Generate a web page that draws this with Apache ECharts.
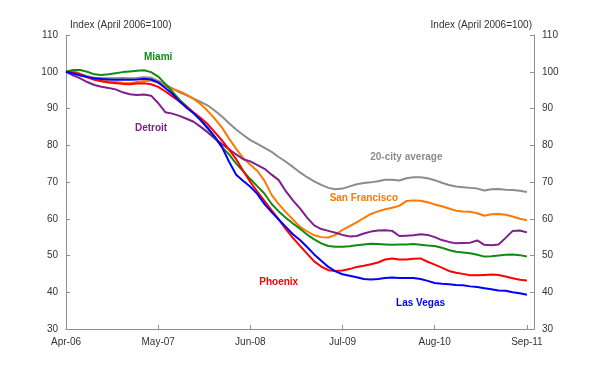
<!DOCTYPE html>
<html>
<head>
<meta charset="utf-8">
<script src="https://cdn.jsdelivr.net/npm/echarts@6/dist/echarts.min.js"></script>
<style>html,body{margin:0;padding:0;background:#fff;}#c{width:601px;height:367px;}</style>
</head>
<body>
<div id="c"></div>
<script>
// Monthly categories Apr-06 .. Oct-11 (last one is axis padding only)
var monthNames = ['Jan','Feb','Mar','Apr','May','Jun','Jul','Aug','Sep','Oct','Nov','Dec'];
var categories = [];
for (var k = 0; k < 67; k++) {
  var m = (3 + k) % 12, y = 6 + Math.floor((3 + k) / 12);
  categories.push(monthNames[m] + '-' + (y < 10 ? '0' + y : '' + y));
}
var yTicks = [30, 40, 50, 60, 70, 80, 90, 100, 110];

var avg20 = [100, 100.3, 99.5, 98.8, 98.4, 98.3, 98.2, 98.2, 98.3, 98.2, 98.3, 98.5, 98.4,
  97.5, 96.6, 95.5, 94.4, 93.6, 92.7, 91.8, 90.8, 89.4, 87.8, 86.0, 84.3, 82.8,
  81.4, 80.4, 79.3, 78.2, 76.8, 75.5, 74.1, 72.6, 71.3, 70.2, 69.2, 68.4, 68.0,
  68.2, 68.8, 69.4, 69.7, 69.9, 70.2, 70.6, 70.6, 70.4, 71.0, 71.3, 71.3, 71.0,
  70.5, 69.8, 69.2, 68.8, 68.6, 68.4, 68.2, 67.7, 68.0, 68.1, 67.9, 67.8, 67.6, 67.3];
var sanFrancisco = [100, 100.2, 99.2, 98.5, 98.0, 97.7, 97.4, 97.2, 97.0, 96.9, 97.2, 97.5, 97.6,
  97.0, 96.1, 95.3, 94.7, 93.8, 92.6, 91.2, 89.3, 87.2, 84.8, 81.8, 79.0, 76.5,
  74.7, 73.0, 70.3, 66.5, 64.0, 61.8, 59.8, 57.8, 56.6, 55.5, 55.0, 54.9, 55.6,
  57.0, 58.0, 59.0, 60.2, 61.3, 62.0, 62.6, 63.0, 63.5, 64.8, 65.0, 64.9, 64.5,
  63.9, 63.4, 62.8, 62.2, 62.0, 61.9, 61.5, 60.8, 61.2, 61.3, 61.1, 60.6, 60.0, 59.6];
var detroit = [100, 99.0, 98.2, 97.2, 96.4, 95.9, 95.6, 95.2, 94.4, 93.9, 93.7, 93.8, 93.5,
  91.5, 89.0, 88.6, 88.0, 87.2, 86.4, 85.0, 83.5, 81.8, 80.3, 78.9, 77.5, 76.2,
  75.6, 74.6, 73.6, 72.0, 70.5, 67.5, 65.0, 62.8, 60.3, 58.2, 57.2, 56.7, 56.2,
  55.6, 55.2, 55.3, 56.0, 56.5, 56.8, 56.9, 56.7, 55.3, 55.4, 55.5, 55.8, 55.6,
  55.0, 54.2, 53.7, 53.3, 53.4, 53.5, 54.1, 52.9, 52.8, 53.0, 54.8, 56.7, 56.8, 56.3];
var miami = [100, 100.5, 100.5, 100.0, 99.3, 99.1, 99.3, 99.6, 99.9, 100.1, 100.3, 100.4, 99.9,
  98.7, 96.7, 94.6, 92.4, 90.6, 88.8, 86.9, 84.5, 82.0, 79.5, 77.5, 75.0, 72.9,
  70.8, 68.8, 66.8, 64.0, 62.0, 60.3, 58.7, 57.3, 55.7, 54.4, 53.3, 52.6, 52.4,
  52.4, 52.5, 52.8, 53.0, 53.2, 53.1, 53.0, 52.9, 53.0, 53.0, 53.1, 52.9, 52.7,
  52.6, 52.1, 51.5, 51.0, 50.8, 50.6, 50.2, 49.7, 49.8, 50.0, 50.2, 50.3, 50.1, 49.7];
var phoenix = [100, 99.8, 99.3, 98.5, 97.8, 97.4, 97.1, 96.9, 96.7, 96.6, 96.8, 96.9, 96.6,
  95.9, 94.7, 93.3, 91.9, 90.5, 88.9, 87.4, 85.7, 83.5, 81.3, 78.8, 76.2, 73.0,
  70.0, 67.3, 64.8, 62.3, 59.8, 57.2, 54.8, 52.6, 50.5, 48.4, 47.0, 46.0, 45.8,
  45.9, 46.3, 46.9, 47.2, 47.6, 48.1, 48.9, 49.2, 48.9, 48.9, 49.1, 49.2, 48.3,
  47.5, 46.7, 45.8, 45.3, 45.0, 44.6, 44.6, 44.7, 44.8, 44.7, 44.3, 43.8, 43.4, 43.2];
var lasVegas = [100, 99.5, 99.0, 98.6, 98.2, 98.0, 97.9, 97.8, 97.8, 97.8, 97.9, 98.1, 97.9,
  97.1, 95.6, 94.0, 92.0, 90.2, 88.7, 86.8, 84.7, 82.3, 79.5, 75.5, 72.0, 70.3,
  68.7, 66.7, 64.0, 61.8, 59.8, 57.8, 55.8, 54.2, 52.3, 50.3, 48.6, 46.9, 45.7,
  44.9, 44.5, 44.1, 43.6, 43.5, 43.6, 43.9, 44.0, 43.9, 43.9, 43.9, 43.6, 43.1,
  42.5, 42.3, 42.2, 42.0, 41.9, 41.6, 41.4, 41.1, 40.8, 40.5, 40.4, 40.0, 39.7, 39.3];

var seriesNames = ['20-city average', 'San Francisco', 'Detroit', 'Miami', 'Phoenix', 'Las Vegas'];
var seriesData = [avg20, sanFrancisco, detroit, miami, phoenix, lasVegas];
var seriesColors = ['#8C8C8C', '#FF7800', '#7F1F8C', '#128A12', '#FF0000', '#0000FF'];
// label anchor in data coordinates [category index, value]
var labelAnchors = [[48.1, 76.7], [42.0, 65.6], [12.3, 84.6], [13.0, 103.9], [30.3, 42.7], [49.6, 37.1]];

var FONT = 'Liberation Sans, Arial, sans-serif';
var axisColor = '#8F8F8F';
var textColor = '#333333';
var TICK_EVERY = 13;
function showTick(index) { return index % TICK_EVERY === 0 && index < 66; }

var chart = echarts.init(document.getElementById('c'), null, {renderer: 'canvas'});

function yAxisDef(pos) {
  return {
    type: 'value', position: pos, min: yTicks[0], max: yTicks[yTicks.length - 1], interval: 10,
    axisLine: {show: true, lineStyle: {color: axisColor, width: 1}},
    axisTick: {show: true, inside: true, length: 4, lineStyle: {color: axisColor}},
    axisLabel: {color: textColor, fontSize: 10, fontFamily: FONT, margin: 8},
    splitLine: {show: false}
  };
}

var series = seriesData.map(function (d, i) {
  return {
    name: seriesNames[i], type: 'line', data: d, yAxisIndex: 0,
    showSymbol: false, symbol: 'none', smooth: false,
    lineStyle: {color: seriesColors[i], width: 2},
    itemStyle: {color: seriesColors[i]},
    z: 2 + i, silent: true,
    markPoint: {
      symbol: 'circle', symbolSize: 0, silent: true,
      data: [{coord: labelAnchors[i], value: seriesNames[i]}],
      label: {show: true, position: 'inside', formatter: seriesNames[i], color: seriesColors[i],
        fontSize: 10, fontWeight: 'bold', fontFamily: FONT}
    }
  };
});

chart.setOption({
  animation: false,
  backgroundColor: '#ffffff',
  title: [
    {text: 'Index (April 2006=100)', left: 65, top: 15,
      textStyle: {fontSize: 10, fontWeight: 'normal', color: textColor, fontFamily: FONT}},
    {text: 'Index (April 2006=100)', right: 64, top: 15,
      textStyle: {fontSize: 10, fontWeight: 'normal', color: textColor, fontFamily: FONT}}
  ],
  grid: {left: 66, right: 67, top: 35, bottom: 38, containLabel: false},
  xAxis: {
    type: 'category', data: categories, boundaryGap: false,
    axisLine: {show: true, lineStyle: {color: axisColor, width: 1}},
    axisTick: {show: true, inside: true, length: 4, interval: showTick, lineStyle: {color: axisColor}},
    axisLabel: {interval: showTick, color: textColor, fontSize: 10, fontFamily: FONT, margin: 8, hideOverlap: false},
    splitLine: {show: false}
  },
  yAxis: [yAxisDef('left'), yAxisDef('right')],
  series: series
});
</script>
</body>
</html>
